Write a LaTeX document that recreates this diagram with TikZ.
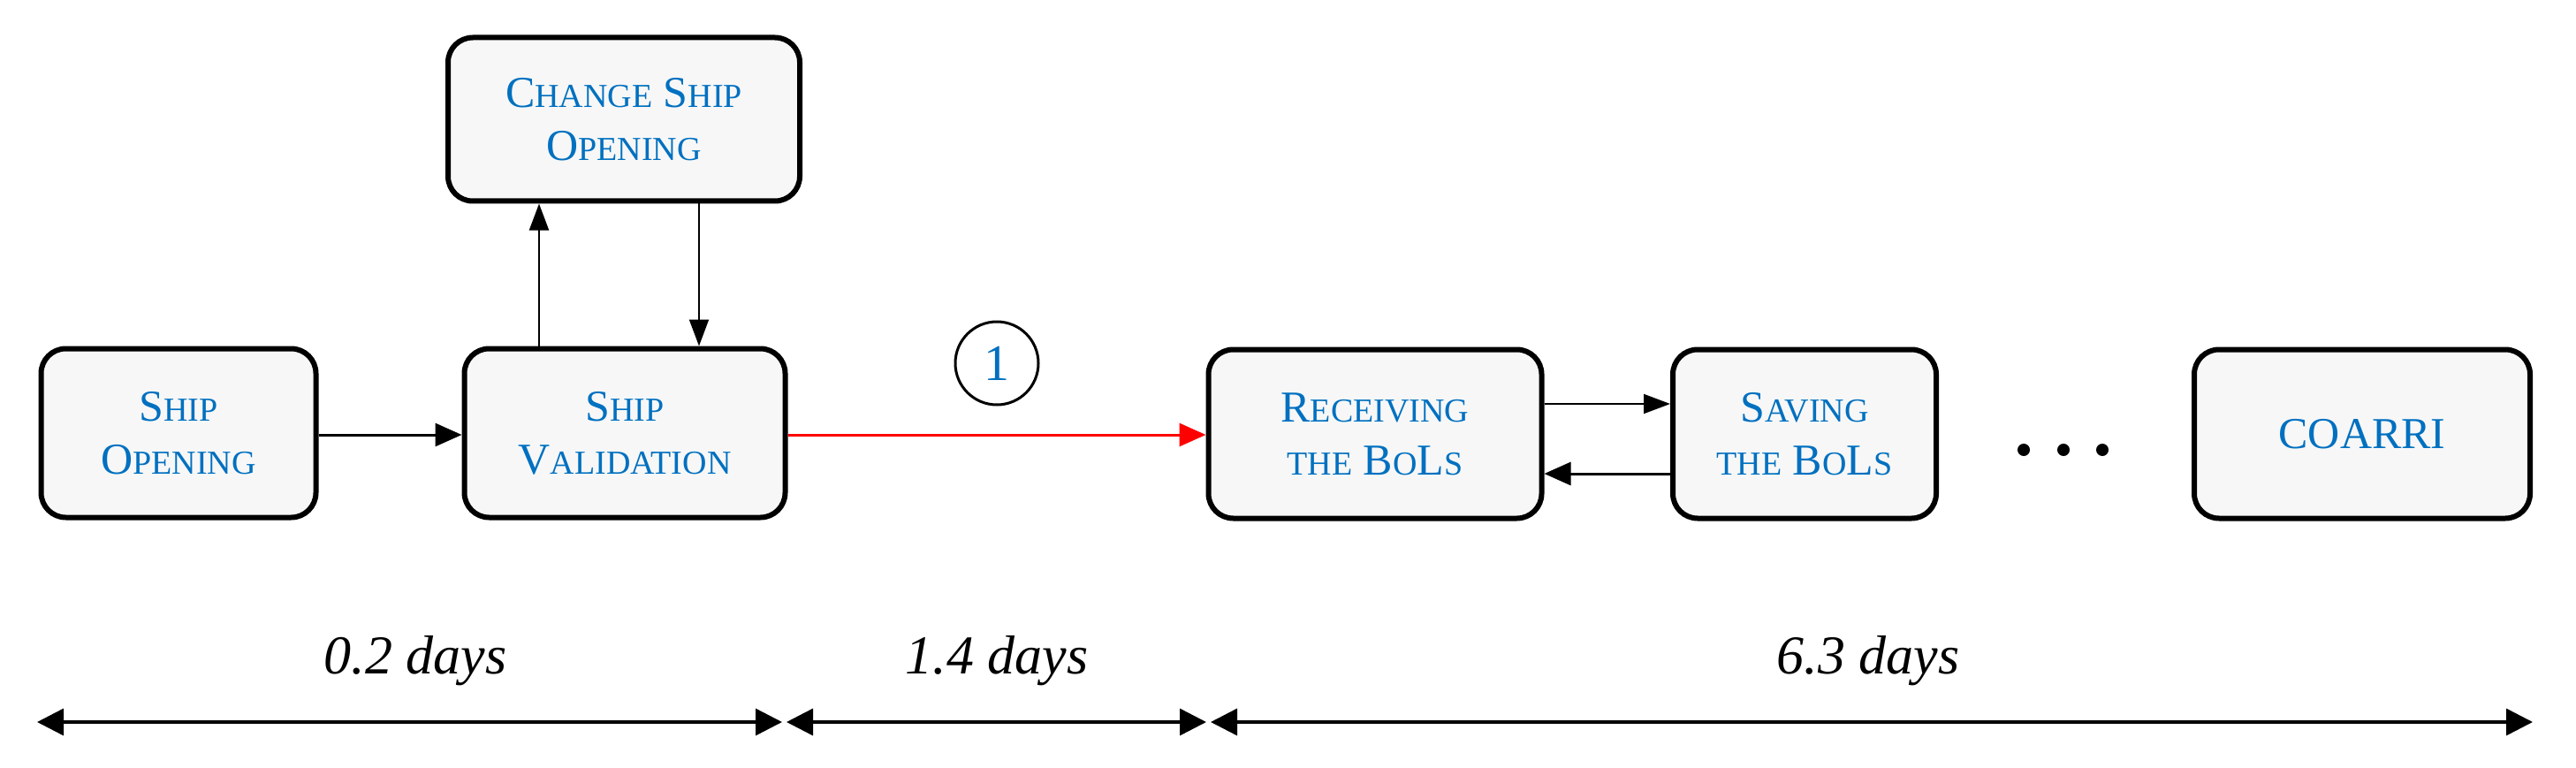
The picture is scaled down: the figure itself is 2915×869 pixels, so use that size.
\documentclass[tikz,border=0pt]{standalone}
\usepackage{fontspec}
\setmainfont{Liberation Serif}
\usetikzlibrary{arrows.meta,shapes.geometric}
\definecolor{tblue}{RGB}{0,112,192}
\newcommand{\myc}[2]{{\fontsize{50}{60}\selectfont #1}{\fontsize{38}{60}\selectfont #2}}
\begin{document}
\begin{tikzpicture}[x=1pt,y=-1pt,
  box/.style={draw=black,line width=6pt,rounded corners=28pt,fill=gray!6,align=center,text=tblue,
    font=\fontsize{50}{60}\selectfont,inner sep=0pt,minimum height=191pt},
  arr/.style={line width=3pt,-{Triangle[length=30pt,width=26pt]}},
  thin/.style={line width=2pt,-{Triangle[length=30pt,width=22pt]}},
  dim/.style={line width=3.5pt,{Triangle[length=30pt,width=30pt]}-{Triangle[length=30pt,width=30pt]}},
  lab/.style={font=\fontsize{62}{70}\selectfont\itshape}]
\useasboundingbox (0,0) rectangle (2915,869);
\node[box,minimum width=311pt] (so) at (202,490) {\myc{S}{HIP}\\\myc{O}{PENING}};
\node[box,minimum width=363pt] (sv) at (707,490) {\myc{S}{HIP}\\\myc{V}{ALIDATION}};
\node[box,minimum width=398pt,minimum height=185pt] (ch) at (706,135) {\myc{C}{HANGE} \myc{S}{HIP}\\\myc{O}{PENING}};
\node[box,minimum width=377pt] (rec) at (1556,491) {\myc{R}{ECEIVING}\\\myc{}{THE} \myc{B}{O}\myc{L}{S}};
\node[box,minimum width=298pt] (sav) at (2042,491) {\myc{S}{AVING}\\\myc{}{THE} \myc{B}{O}\myc{L}{S}};
\node[box,minimum width=380pt] (co) at (2673,491) {\myc{COARRI}{}};
\node[draw,ellipse,line width=3pt,minimum width=94pt,minimum height=94pt,inner sep=0pt,text=tblue,font=\fontsize{58}{60}\selectfont] (one) at (1128,411) {1};
\foreach \i/\x in {1/2290,2/2335,3/2379} \fill (\x,509) circle (7pt);
\draw[arr] (so.east |- 0,492) -- (sv.west |- 0,492);
\draw[thin] (sv.north -| 610,0) -- (ch.south -| 610,0);
\draw[thin] (ch.south -| 791,0) -- (sv.north -| 791,0);
\draw[arr,red] (sv.east |- 0,492) -- (rec.west |- 0,492);
\draw[thin] (rec.east |- 0,457) -- (sav.west |- 0,457);
\draw[arr] (sav.west |- 0,536) -- (rec.east |- 0,536);
\coordinate (d0) at (42,817);
\coordinate (d1) at (885,817);
\coordinate (d2) at (890,817);
\coordinate (d3) at (1365,817);
\coordinate (d4) at (1370,817);
\coordinate (d5) at (2866,817);
\draw[dim] (d0) -- (d1);
\draw[dim] (d2) -- (d3);
\draw[dim] (d4) -- (d5);
\node[lab] (l1) at (470,748) {0.2 days};
\node[lab] (l2) at (1128,748) {1.4 days};
\node[lab] (l3) at (2114,748) {6.3 days};
\end{tikzpicture}
\end{document}
